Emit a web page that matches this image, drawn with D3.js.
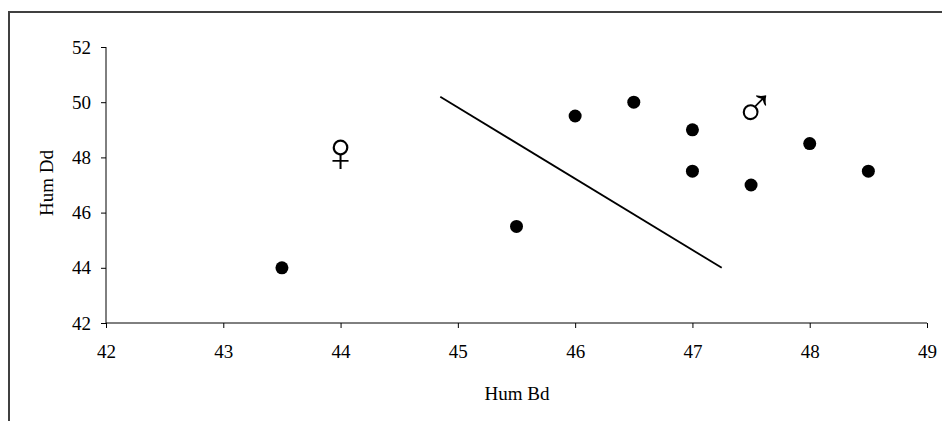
<!DOCTYPE html>
<html><head><meta charset="utf-8">
<script src="https://cdn.jsdelivr.net/npm/d3@7"></script>
<style>body{margin:0;background:#fff}svg{display:block}</style>
</head><body>
<script>
const xTicks = [42,43,44,45,46,47,48,49];
const yTicks = [42,44,46,48,50,52];
const pointsX = [43.5,45.5,46,46.5,47,47,47.5,48,48.5];
const pointsY = [44,45.5,49.5,50,49,47.5,47,48.5,47.5];
const lineX = [44.85,47.25];
const lineY = [50.2,44.0];
const symbols = ["\u2640","\u2642"];
const symbolX = [44,47.53];
const symbolY = [48.2,49.8];
const xLabel = "Hum Bd", yLabel = "Hum Dd";

const W=942,H=421;
const svg=d3.select("body").append("svg").attr("width",W).attr("height",H);
svg.append("rect").attr("x",9).attr("y",12).attr("width",1200).attr("height",1200)
  .attr("fill","none").attr("stroke","#404040").attr("stroke-width",2);
const x=d3.scaleLinear().domain([42,49]).range([106,927]);
const y=d3.scaleLinear().domain([42,52]).range([323,47]);
const font="'Liberation Serif','Times New Roman',serif";
const gx=svg.append("g").attr("transform","translate(0,323)")
  .call(d3.axisBottom(x).tickValues(xTicks).tickSize(5).tickPadding(17).tickFormat(d3.format("d")));
const gy=svg.append("g").attr("transform","translate(106,0)")
  .call(d3.axisLeft(y).tickValues(yTicks).tickSize(5).tickPadding(10).tickFormat(d3.format("d")));
[gx,gy].forEach(g=>{
  g.selectAll("path,line").attr("stroke","#000").attr("stroke-width",1);
  g.selectAll("text").attr("font-family",font).attr("font-size",19).attr("fill","#000");
});
gx.select(".domain").attr("d","M106,0H927");
gy.select(".domain").attr("d","M0,323V47");
svg.append("text").attr("x",517).attr("y",400).attr("text-anchor","middle")
  .attr("font-family",font).attr("font-size",19).text(xLabel);
svg.append("text").attr("transform","translate(53,183) rotate(-90)").attr("text-anchor","middle")
  .attr("font-family",font).attr("font-size",19).text(yLabel);
svg.append("line").attr("x1",x(lineX[0])).attr("y1",y(lineY[0])).attr("x2",x(lineX[1])).attr("y2",y(lineY[1]))
  .attr("stroke","#000").attr("stroke-width",1.8);
svg.selectAll("circle.pt").data(pointsX).enter().append("circle").attr("class","pt")
  .attr("cx",(d)=>x(d)).attr("cy",(d,i)=>y(pointsY[i])).attr("r",6.5).attr("fill","#000");
svg.selectAll("text.sym").data(symbols).enter().append("text").attr("class","sym")
  .attr("x",(d,i)=>x(symbolX[i])).attr("y",(d,i)=>y(symbolY[i])).attr("text-anchor","middle")
  .attr("dominant-baseline","central").attr("font-family","'DejaVu Sans',sans-serif")
  .attr("font-weight",200).attr("font-size",56).attr("fill","#000").text(d=>d);
</script>
</body></html>
